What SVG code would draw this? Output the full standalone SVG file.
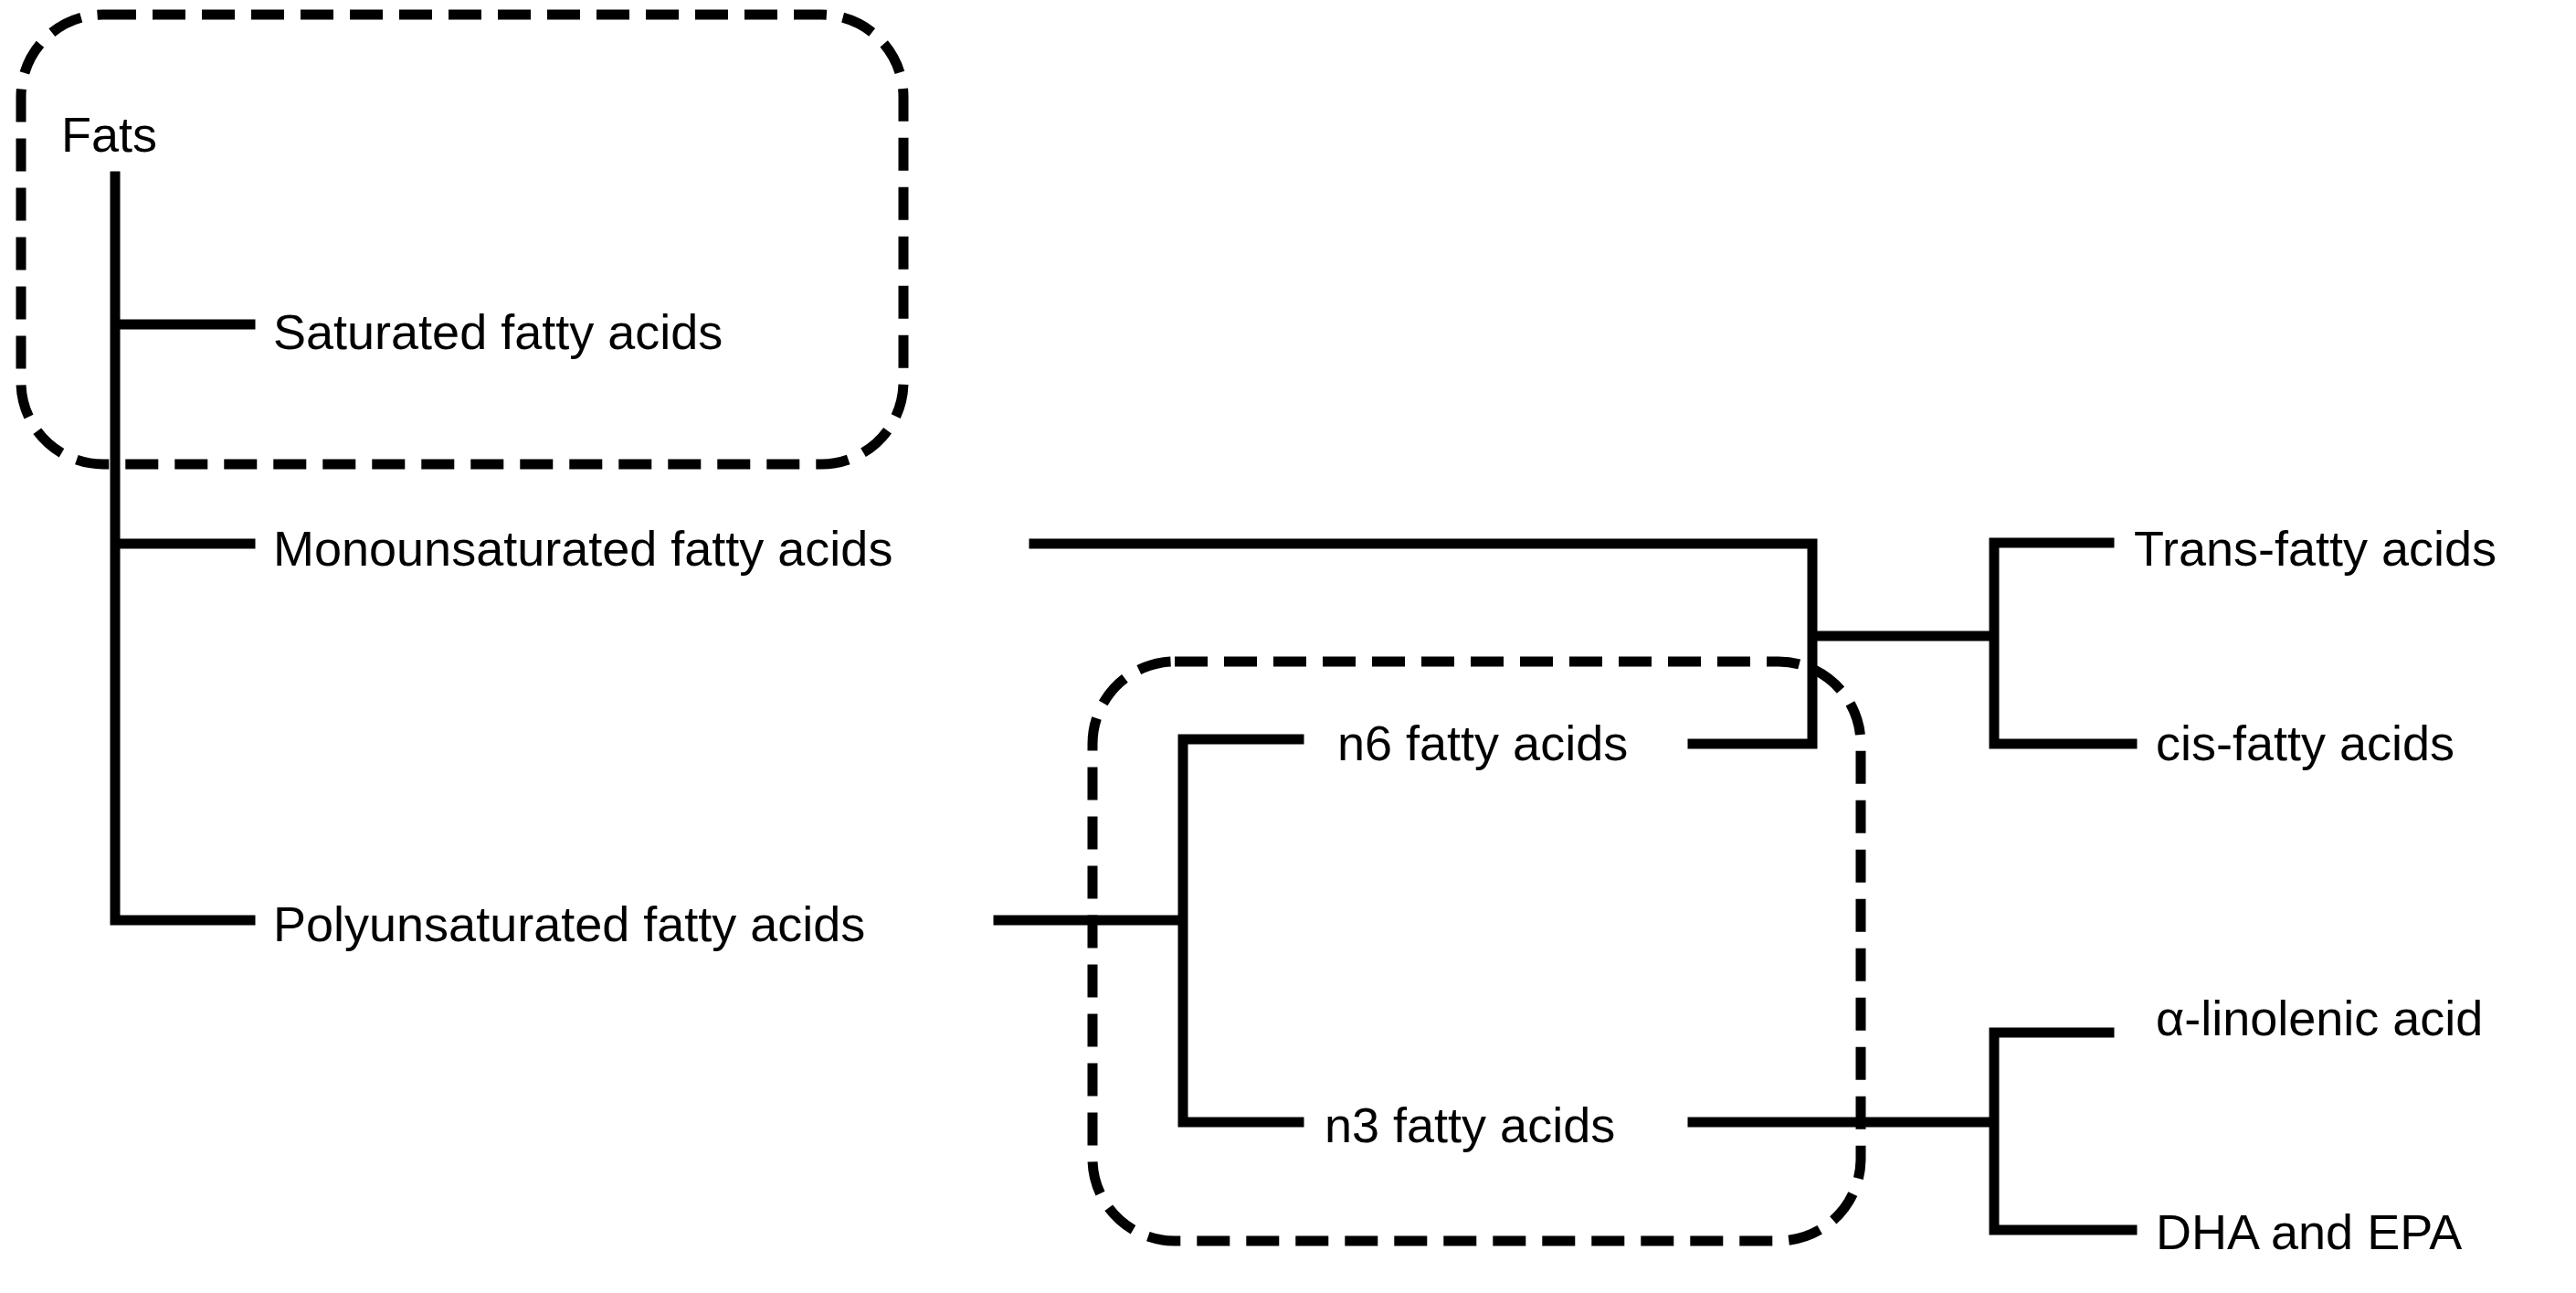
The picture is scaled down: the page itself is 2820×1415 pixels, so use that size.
<svg xmlns="http://www.w3.org/2000/svg" width="2820" height="1415" viewBox="0 0 2820 1415">
<style>
text{font-family:"Liberation Sans",Arial,sans-serif;font-size:54px;fill:#000}
.c{stroke:#000;stroke-width:11;fill:none;stroke-linecap:square}
.g{stroke:#000;stroke-width:11;fill:none;stroke-dasharray:36 18}
</style>
<rect width="2820" height="1415" fill="#fff"/>
<g id="groups">
<rect class="g" x="23" y="16" width="966" height="492" rx="90"/>
<rect class="g" x="1196" y="724" width="841" height="634" rx="90"/>
</g>
<g id="connectors">
<path class="c" d="M126 193V1007H274M126 355H274M126 595H274"/>
<path class="c" d="M1132 595H1984V814H1853M1984 696H2183M2309 594H2183V814H2334"/>
<path class="c" d="M1093 1007H1295M1422 809H1295V1228H1422"/>
<path class="c" d="M1853 1228H2183M2309 1130H2183V1346H2334"/>
</g>
<g id="fats"><text x="67" y="166">Fats</text></g>
<g id="sat"><text x="299" y="382">Saturated fatty acids</text></g>
<g id="mono"><text x="299" y="619">Monounsaturated fatty acids</text></g>
<g id="poly"><text x="299" y="1030">Polyunsaturated fatty acids</text></g>
<g id="n6"><text x="1464" y="832">n6 fatty acids</text></g>
<g id="n3"><text x="1450" y="1250">n3 fatty acids</text></g>
<g id="trans"><text x="2336" y="619">Trans-fatty acids</text></g>
<g id="cis"><text x="2360" y="832">cis-fatty acids</text></g>
<g id="ala"><text x="2360" y="1133">α-linolenic acid</text></g>
<g id="dha"><text x="2360" y="1367">DHA and EPA</text></g>
</svg>
